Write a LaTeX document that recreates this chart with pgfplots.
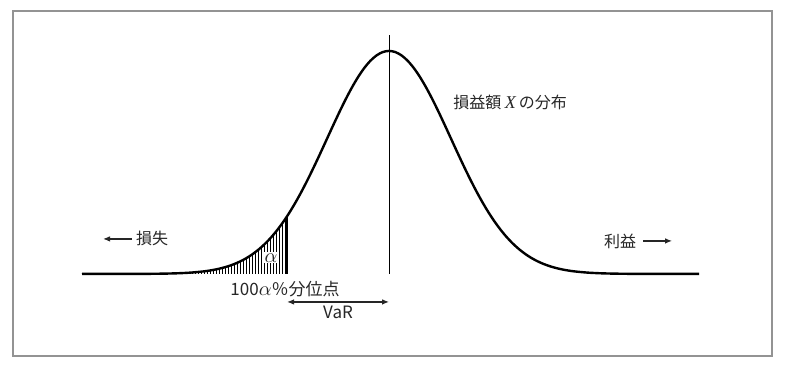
\documentclass[border=0pt]{standalone}
\usepackage{fontspec}
\setmainfont{Noto Sans CJK JP}
\usepackage{pgfplots}
\pgfplotsset{compat=1.18}
\usetikzlibrary{arrows.meta,patterns.meta}
\newfontfamily\serifit{Liberation Serif}
\begin{document}
\begin{tikzpicture}[font=\fontsize{8}{10}\selectfont]
\begin{axis}[
 width=379.5pt, height=172.5pt, scale only axis,
 xmin=-6.065, xmax=6.177, ymin=-0.368, ymax=1.179,
 xtick=\empty, ytick=\empty,
 axis line style={draw=gray!85, line width=0.7pt},
 clip=false,
]
% hatched left tail (5% quantile)
\addplot[draw=none, pattern={Lines[angle=90,distance=1.5pt,line width=0.45pt]}, smooth] coordinates {
(-5,0) (-4.5,0.00004) (-4.0,0.00034) (-3.8,0.00073) (-3.6,0.00153) (-3.4,0.00309)
(-3.2,0.00598) (-3.0,0.01111) (-2.8,0.01984) (-2.6,0.03405) (-2.4,0.05613)
(-2.2,0.08892) (-2.0,0.13534) (-1.9,0.16447) (-1.8,0.19790) (-1.7,0.23575) (-1.645,0.25848)
} \closedcycle;
% density curve
\addplot[black, line width=1.2pt, smooth] coordinates {
(-4.95,0) (-4.5,0.00004) (-4.0,0.00034) (-3.8,0.00073) (-3.6,0.00153) (-3.4,0.00309)
(-3.2,0.00598) (-3.0,0.01111) (-2.9,0.01492) (-2.8,0.01984) (-2.7,0.02612) (-2.6,0.03405)
(-2.5,0.04394) (-2.4,0.05613) (-2.3,0.07100) (-2.2,0.08892) (-2.1,0.11025) (-2.0,0.13534)
(-1.9,0.16447) (-1.8,0.19790) (-1.7,0.23575) (-1.6,0.27804) (-1.5,0.32465) (-1.4,0.37531)
(-1.3,0.42956) (-1.2,0.48675) (-1.1,0.54607) (-1.0,0.60653) (-0.9,0.66698) (-0.8,0.72615)
(-0.7,0.78270) (-0.6,0.83527) (-0.5,0.88250) (-0.4,0.92312) (-0.3,0.95600) (-0.2,0.98020)
(-0.1,0.99501) (0,1)
(0.1,0.99501) (0.2,0.98020) (0.3,0.95600) (0.4,0.92312) (0.5,0.88250) (0.6,0.83527)
(0.7,0.78270) (0.8,0.72615) (0.9,0.66698) (1.0,0.60653) (1.1,0.54607) (1.2,0.48675)
(1.3,0.42956) (1.4,0.37531) (1.5,0.32465) (1.6,0.27804) (1.7,0.23575) (1.8,0.19790)
(1.9,0.16447) (2.0,0.13534) (2.1,0.11025) (2.2,0.08892) (2.3,0.07100) (2.4,0.05613)
(2.5,0.04394) (2.6,0.03405) (2.7,0.02612) (2.8,0.01984) (2.9,0.01492) (3.0,0.01111)
(3.2,0.00598) (3.4,0.00309) (3.6,0.00153) (3.8,0.00073) (4.0,0.00034) (4.5,0.00004) (5.0,0)
};
% VaR boundary and mean line
\addplot[black, line width=1pt] coordinates {(-1.645,0) (-1.645,0.25848)};
\addplot[black, line width=0.45pt] coordinates {(0,0) (0,1.072)};
% labels
\node[fill=white, inner sep=0.6pt, text=black!85, font=\fontsize{10}{12}\selectfont] at (axis cs:-1.903,0.072) {$\alpha$};
\node[text=black!85, font=\fontsize{8.5}{10}\selectfont] at (axis cs:-1.677,-0.067) {100{\fontsize{10}{12}\selectfont$\alpha$}％分位点};
\draw[{Latex[length=3.5pt,width=2.8pt]}-{Latex[length=3.5pt,width=2.8pt]}, line width=0.6pt, black!85]
  (axis cs:-1.645,-0.1256) -- (axis cs:0,-0.1256);
\node[text=black!85, font=\fontsize{8.5}{10}\selectfont] at (axis cs:-0.823,-0.172) {VaR};
\node[text=black!85] at (axis cs:1.952,0.767) {損益額 {\fontsize{9}{10}\selectfont\serifit\itshape X\,}の分布};
\draw[-{Latex[length=3.5pt,width=2.8pt]}, line width=0.6pt, black!85] (axis cs:-4.145,0.157) -- (axis cs:-4.613,0.157);
\node[text=black!85] at (axis cs:-3.823,0.157) {損失};
\node[text=black!85] at (axis cs:3.726,0.148) {利益};
\draw[-{Latex[length=3.5pt,width=2.8pt]}, line width=0.6pt, black!85] (axis cs:4.097,0.148) -- (axis cs:4.565,0.148);
\end{axis}
\path ([shift={(-6.5pt,-7.5pt)}]current axis.south west) rectangle ([shift={(14pt,5.5pt)}]current axis.north east);
\end{tikzpicture}
\end{document}
